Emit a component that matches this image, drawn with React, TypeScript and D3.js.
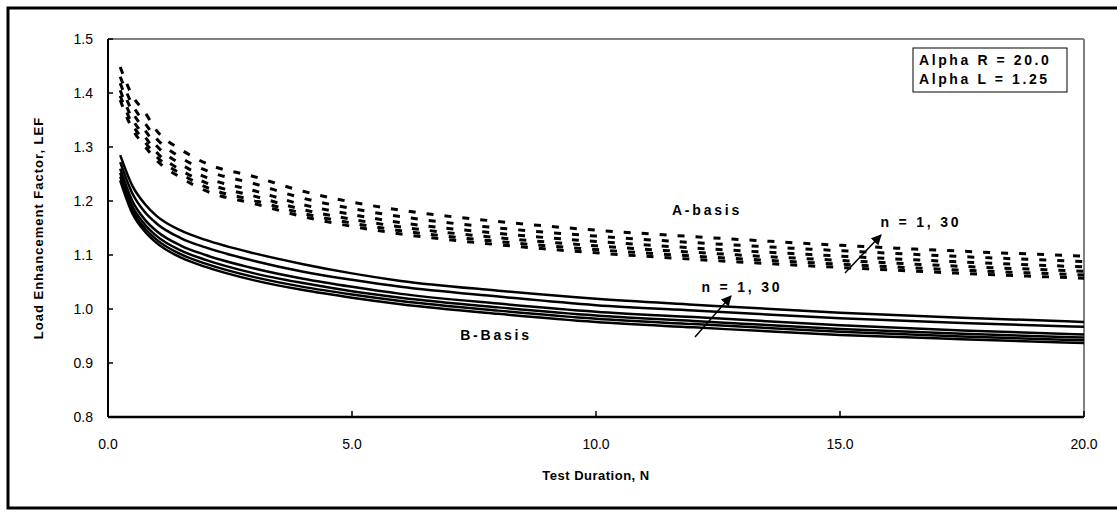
import * as d3 from 'd3'

// Test duration values (x) shared by every curve
const testDuration = [0.25, 0.5, 0.75, 1, 1.5, 2, 3, 4, 5, 6, 8, 10, 12, 15, 17.5, 20]

// B-basis LEF curves, n = 1 ... 30 (solid)
const bBasis1 = [1.285, 1.228, 1.195, 1.172, 1.145, 1.128, 1.103, 1.083, 1.066, 1.052, 1.034, 1.019, 1.008, 0.993, 0.984, 0.976]
const bBasis2 = [1.272, 1.214, 1.18, 1.158, 1.131, 1.114, 1.089, 1.069, 1.054, 1.041, 1.023, 1.007, 0.997, 0.983, 0.974, 0.967]
const bBasis3 = [1.26, 1.2, 1.166, 1.144, 1.117, 1.1, 1.075, 1.056, 1.041, 1.028, 1.01, 0.995, 0.985, 0.97, 0.96, 0.953]
const bBasis4 = [1.252, 1.19, 1.157, 1.135, 1.108, 1.091, 1.066, 1.048, 1.033, 1.021, 1.003, 0.988, 0.978, 0.963, 0.954, 0.947]
const bBasis5 = [1.245, 1.183, 1.15, 1.128, 1.101, 1.084, 1.059, 1.041, 1.027, 1.015, 0.997, 0.982, 0.972, 0.958, 0.949, 0.942]
const bBasis6 = [1.238, 1.177, 1.144, 1.122, 1.095, 1.078, 1.053, 1.035, 1.021, 1.009, 0.991, 0.976, 0.966, 0.952, 0.944, 0.937]

// A-basis LEF curves, n = 1 ... 30 (dashed)
const aBasis1 = [1.448, 1.395, 1.365, 1.33, 1.295, 1.27, 1.245, 1.218, 1.198, 1.183, 1.162, 1.146, 1.134, 1.118, 1.107, 1.098]
const aBasis2 = [1.43, 1.378, 1.345, 1.315, 1.28, 1.257, 1.232, 1.205, 1.186, 1.171, 1.15, 1.135, 1.123, 1.108, 1.097, 1.088]
const aBasis3 = [1.418, 1.365, 1.332, 1.302, 1.268, 1.244, 1.219, 1.193, 1.175, 1.16, 1.14, 1.125, 1.113, 1.098, 1.087, 1.078]
const aBasis4 = [1.405, 1.352, 1.32, 1.29, 1.257, 1.234, 1.209, 1.184, 1.166, 1.152, 1.132, 1.117, 1.105, 1.09, 1.079, 1.07]
const aBasis5 = [1.395, 1.342, 1.31, 1.282, 1.25, 1.226, 1.201, 1.177, 1.159, 1.145, 1.125, 1.11, 1.098, 1.083, 1.072, 1.063]
const aBasis6 = [1.387, 1.333, 1.302, 1.275, 1.243, 1.219, 1.195, 1.171, 1.153, 1.139, 1.119, 1.104, 1.092, 1.077, 1.066, 1.057]

const bSeries = [bBasis1, bBasis2, bBasis3, bBasis4, bBasis5, bBasis6]
const aSeries = [aBasis1, aBasis2, aBasis3, aBasis4, aBasis5, aBasis6]

const xTicks = [0, 5, 10, 15, 20]
const yTicks = [0.8, 0.9, 1.0, 1.1, 1.2, 1.3, 1.4, 1.5]
const legendLines = ['Alpha R = 20.0', 'Alpha L = 1.25']

const FONT = 'Arial, "Liberation Sans", sans-serif'

export default function App() {
  const plot = { left: 108, top: 39, right: 1084, bottom: 417 }

  const x = d3.scaleLinear().domain([0, 20]).range([plot.left, plot.right])
  const y = d3.scaleLinear().domain([0.8, 1.5]).range([plot.bottom, plot.top])

  const line = (vals: number[]) =>
    d3.line<number>()
      .x((_, i) => x(testDuration[i]))
      .y(d => y(d))
      .curve(d3.curveMonotoneX)(vals) || ''

  const label = { fontFamily: FONT, fontSize: 14, fontWeight: 'bold' as const, letterSpacing: 2.8 }

  return (
    <svg width={1117} height={520} style={{ position: 'absolute', left: 0, top: 0 }}>
      <rect x={0} y={0} width={1117} height={520} fill="#fff" />
      {/* chart frame */}
      <rect x={8} y={8} width={1125} height={500} fill="none" stroke="#000" strokeWidth={3} />

      {/* plot area border */}
      <line x1={plot.left} y1={plot.top} x2={plot.right} y2={plot.top} stroke="#808080" strokeWidth={2} />
      <line x1={plot.right} y1={plot.top} x2={plot.right} y2={plot.bottom} stroke="#808080" strokeWidth={2} />

      {/* curves */}
      <g fill="none" stroke="#000">
        {bSeries.map((s, i) => (
          <path key={'b' + i} d={line(s)} strokeWidth={2.5} />
        ))}
        {aSeries.map((s, i) => (
          <path key={'a' + i} d={line(s)} strokeWidth={3} strokeDasharray="7,11" />
        ))}
      </g>

      {/* axes */}
      <line x1={plot.left} y1={plot.top} x2={plot.left} y2={plot.bottom} stroke="#000" strokeWidth={2} />
      <line x1={plot.left} y1={plot.bottom} x2={plot.right} y2={plot.bottom} stroke="#000" strokeWidth={2.5} />
      {yTicks.map(t => (
        <g key={'y' + t}>
          <line x1={plot.left} x2={plot.left + 5} y1={y(t)} y2={y(t)} stroke="#000" strokeWidth={1.5} />
          <text x={plot.left - 15} y={y(t)} dy="0.35em" textAnchor="end" fontFamily={FONT} fontSize={14}>
            {t.toFixed(1)}
          </text>
        </g>
      ))}
      {xTicks.map(t => (
        <g key={'x' + t}>
          <line x1={x(t)} x2={x(t)} y1={plot.bottom} y2={plot.bottom - 6} stroke="#000" strokeWidth={1.5} />
          <text x={x(t)} y={plot.bottom + 27} dy="0.35em" textAnchor="middle" fontFamily={FONT} fontSize={14}>
            {t.toFixed(1)}
          </text>
        </g>
      ))}

      {/* axis titles */}
      <text x={596} y={480} textAnchor="middle" fontFamily={FONT} fontSize={13} fontWeight="bold" letterSpacing={0.5}>
        Test Duration, N
      </text>
      <text transform={`translate(38,${(plot.top + plot.bottom) / 2}) rotate(-90)`} textAnchor="middle"
        dy="0.35em" fontFamily={FONT} fontSize={13} fontWeight="bold" letterSpacing={1}>
        Load Enhancement Factor, LEF
      </text>

      {/* annotations */}
      <text x={707} y={210} dy="0.35em" textAnchor="middle" {...label}>A-basis</text>
      <text x={496} y={335} dy="0.35em" textAnchor="middle" {...label}>B-Basis</text>
      <text x={742} y={287} dy="0.35em" textAnchor="middle" {...label}>n = 1, 30</text>
      <text x={921} y={222} dy="0.35em" textAnchor="middle" {...label}>n = 1, 30</text>

      <defs>
        <marker id="arr" viewBox="0 0 10 10" refX={9} refY={5} markerWidth={7} markerHeight={7} orient="auto">
          <path d="M0,0 L10,5 L0,10 z" fill="#000" />
        </marker>
      </defs>
      <line x1={695} y1={337} x2={731} y2={296} stroke="#000" strokeWidth={1.5} markerEnd="url(#arr)" />
      <line x1={845} y1={273} x2={881} y2={235} stroke="#000" strokeWidth={1.5} markerEnd="url(#arr)" />

      {/* legend box */}
      <rect x={913} y={48} width={154} height={44} fill="#fff" stroke="#000" strokeWidth={1} />
      {legendLines.map((l, i) => (
        <text key={l} x={919} y={60 + i * 19} dy="0.35em" {...label} letterSpacing={2.6}>{l}</text>
      ))}
    </svg>
  )
}
